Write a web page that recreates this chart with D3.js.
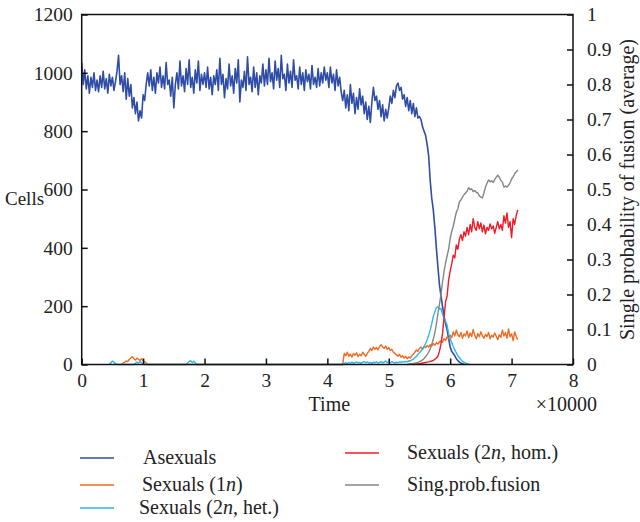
<!DOCTYPE html>
<html><head><meta charset="utf-8">
<script src="https://cdn.jsdelivr.net/npm/d3@7"></script>
<style>
body{margin:0;background:#fff}
svg{display:block}
text{font-family:"Liberation Serif","Times New Roman",serif;fill:#222}
</style>
</head><body>
<svg id="c" width="640" height="522"></svg>
<script>
// ---------------- data ----------------
const dt = 0.025; // sampling step in time units (x10000)
const xTicks = [0,1,2,3,4,5,6,7,8];
const leftTicks = [0,200,400,600,800,1000,1200];
const rightTicks = [0,0.1,0.2,0.3,0.4,0.5,0.6,0.7,0.8,0.9,1];

// Asexuals, starting at t = 0
const asexuals = [
 1035,960,1010,945,990,930,985,950,1000,940,975,935,990,950,1005,945,980,930,995,955,
 985,940,970,1005,1060,960,990,935,1000,910,980,920,960,880,915,860,900,835,870,845,
 925,905,960,1000,
 955,1010,940,985,930,1000,965,1020,950,990,945,1035,960,975,920,985,880,960,1000,945,
 1040,955,990,935,1015,960,1045,950,985,930,1010,965,1040,940,995,960,
 1000,950,1020,945,985,925,990,960,1010,940,1050,960,995,915,980,945,1030,955,990,930,
 1015,965,1045,900,975,950,1005,940,1055,960,985,935,1020,950,1000,925,990,965,1030,955,
 1010,960,1050,970,1000,945,1040,975,1015,950,1060,980,995,940,1030,965,1005,950,1045,975,
 990,945,1020,960,1000,940,1010,970,995,945,1025,960,985,950,1015,955,1000,965,1020,975,
 1000,950,1020,965,995,940,1010,955,985,935,
 905,940,880,925,870,960,895,930,860,915,875,945,890,920,860,900,840,885,
 830,900,950,905,920,875,905,850,890,835,875,845,
 880,920,895,940,915,955,965,940,950,910,925,885,915,870,905,860,895,850,880,845,850,
 840,815,800,785,755,715,630,570,530,470,400,335,275,235,200,165,140,120,90,60,
 45,38,30,20,14,8,5,3,1,0
];

// Sexuals (1n)
const sex1nEarlyStart = 0.65;
const sex1nEarly = [0,5,8,12,10,18,22,27,20,15,22,18,14,20,12,10,5,0];
const sex1nStart = 4.25;
const sex1n = [
 0,38,30,42,28,36,25,38,32,40,27,35,30,42,35,28,38,45,55,48,
 60,52,58,50,62,68,60,55,63,52,58,48,52,42,38,33,28,35,25,30,
 22,28,20,26,22,30,35,42,50,45,55,60,52,62,58,65,60,68,63,72,
 66,75,70,78,80,76,88,82,95,88,100,92,112,98,118,102,95,110,90,105,
 98,115,92,108,96,120,100,88,106,95,112,98,90,103,96,110,88,100,94,108,
 97,85,102,93,118,98,110,90,122,95,105,82,112,96,85
];

// Sexuals (2n, het.)
const het2nBumps = [
 {start:0.45, values:[0,6,12,8,3,0]},
 {start:0.85, values:[0,4,8,5,10,6,3,0]},
 {start:1.70, values:[0,6,10,13,7,11,5,0]}
];
const het2nStart = 4.25;
const het2n = [
 0,4,6,3,7,5,8,4,6,9,5,7,4,8,10,6,9,5,7,4,
 8,6,9,5,7,10,6,8,12,7,9,6,10,7,5,8,6,9,7,10,
 8,11,9,13,12,16,18,24,28,35,40,46,52,62,72,85,100,118,140,165,
 180,195,198,190,192,172,160,148,135,105,90,75,62,50,40,30,24,16,11,8,
 5,3,1,0
];

// Sexuals (2n, hom.)
const hom2nStart = 5.4;
const hom2n = [
 0,1,2,2,3,4,5,6,7,8,9,11,12,14,18,22,28,45,70,105,
 160,215,235,290,320,345,375,365,410,395,430,445,425,455,440,470,445,480,455,500,
 470,460,490,465,485,455,478,448,470,460,482,465,475,450,470,490,465,480,460,510,
 485,520,470,490,435,500,480,510,530
];

// Single probability of fusion (right axis)
const fusionStart = 5.3;
const fusion = [
 0,0.001,0.002,0.002,0.003,0.004,0.005,0.006,0.008,0.01,0.013,0.017,0.022,0.028,0.035,0.045,0.058,0.072,0.09,0.115,
 0.145,0.172,0.2,0.235,0.265,0.29,0.31,0.33,0.36,0.38,0.395,0.415,0.435,0.445,0.465,0.47,0.478,0.485,0.49,0.495,
 0.505,0.5,0.502,0.494,0.497,0.492,0.49,0.482,0.478,0.476,0.49,0.507,0.518,0.527,0.522,0.525,0.52,0.528,0.535,0.541,
 0.535,0.526,0.521,0.507,0.51,0.507,0.512,0.519,0.53,0.536,0.545,0.55,0.556
];

const legendLabels = [
 ["Asexuals"], ["Sexuals (1", "n", ")"], ["Sexuals (2", "n", ", het.)"],
 ["Sexuals (2", "n", ", hom.)"], ["Sing.prob.fusion"]
];
const colors = ["#2f4da6","#f26a22","#2db7ea","#ee1c25","#858585"];

// ---------------- chart ----------------
const svg = d3.select("#c");
const L = 81.7, R = 573, T = 14.5, B = 364.5;
const x = d3.scaleLinear().domain([0,8]).range([L,R]);
const yL = d3.scaleLinear().domain([0,1200]).range([B,T]);
const yR = d3.scaleLinear().domain([0,1]).range([B,T]);

const pts = (start, vals) => vals.map((v,i)=>[start + i*dt, v]);

const sAsex = pts(0, asexuals);
const s1n = pts(sex1nEarlyStart, sex1nEarly).concat(pts(sex1nStart, sex1n));
const sHet = het2nBumps.flatMap(b=>pts(b.start,b.values)).concat(pts(het2nStart, het2n));
const sHom = pts(hom2nStart, hom2n);
const sFus = pts(fusionStart, fusion);

const lineL = d3.line().x(d=>x(d[0])).y(d=>yL(d[1]));
const lineR = d3.line().x(d=>x(d[0])).y(d=>yR(d[1]));

const g = svg.append("g");
[[sAsex,0,lineL,1.6],[s1n,1,lineL,1.4],[sHet,2,lineL,1.4],[sHom,3,lineL,1.4],[sFus,4,lineR,1.4]].forEach(([d,ci,ln,w])=>{
  g.append("path").datum(d).attr("d",ln).attr("fill","none")
   .attr("stroke",colors[ci]).attr("stroke-width",w).attr("stroke-linejoin","round");
});

// axes
const fontSize = 19.5;
const styleAxis = sel => {
  sel.select(".domain").remove();
  sel.selectAll(".tick line").attr("stroke","#111").attr("stroke-width",1.5);
  sel.selectAll(".tick text").style("font-size",fontSize+"px").attr("fill","#222")
     .style("font-family",'"Liberation Serif","Times New Roman",serif');
};
svg.append("g").attr("transform",`translate(0,${B})`)
  .call(d3.axisBottom(x).tickValues(xTicks).tickSizeInner(-6).tickSizeOuter(0).tickPadding(9).tickFormat(d3.format("d")))
  .call(styleAxis);
svg.append("g").attr("transform",`translate(${L},0)`)
  .call(d3.axisLeft(yL).tickValues(leftTicks).tickSizeInner(-6).tickSizeOuter(0).tickPadding(9).tickFormat(d3.format("d")))
  .call(styleAxis);
svg.append("g").attr("transform",`translate(${R},0)`)
  .call(d3.axisRight(yR).tickValues(rightTicks).tickSizeInner(-6).tickSizeOuter(0).tickPadding(14)
     .tickFormat(d=> (d===0||d===1) ? String(d) : d3.format(".1f")(d)))
  .call(styleAxis);
// frame
svg.append("rect").attr("x",L).attr("y",T).attr("width",R-L).attr("height",B-T)
  .attr("fill","none").attr("stroke","#111").attr("stroke-width",1.5);

// titles
svg.append("text").attr("x",5).attr("y",205).style("font-size","19px").text("Cells");
svg.append("text").attr("x",(L+R)/2+2).attr("y",411).attr("text-anchor","middle").style("font-size","20px").text("Time");
svg.append("text").attr("x",597).attr("y",411).attr("text-anchor","end").style("font-size","20px").text("\u00d710000");
svg.append("text").attr("transform",`translate(634,${(T+B)/2}) rotate(-90)`).attr("text-anchor","middle")
  .style("font-size","20px").text("Single probability of fusion (average)");

// legend
const legPos = [
 {lx:80, ly:458, tx:143}, {lx:80, ly:485, tx:142}, {lx:80, ly:508, tx:139},
 {lx:345, ly:453, tx:407}, {lx:345, ly:485, tx:407}
];
legendLabels.forEach((parts,i)=>{
  const p = legPos[i];
  svg.append("line").attr("x1",p.lx).attr("x2",p.lx+34).attr("y1",p.ly).attr("y2",p.ly)
     .attr("stroke",colors[i]).attr("stroke-width",1.6);
  const t = svg.append("text").attr("x",p.tx).attr("y",p.ly+6).style("font-size","20px");
  parts.forEach((s,k)=>{
    t.append("tspan").text(s).style("font-style", k===1 ? "italic" : "normal");
  });
});
</script>
</body></html>
